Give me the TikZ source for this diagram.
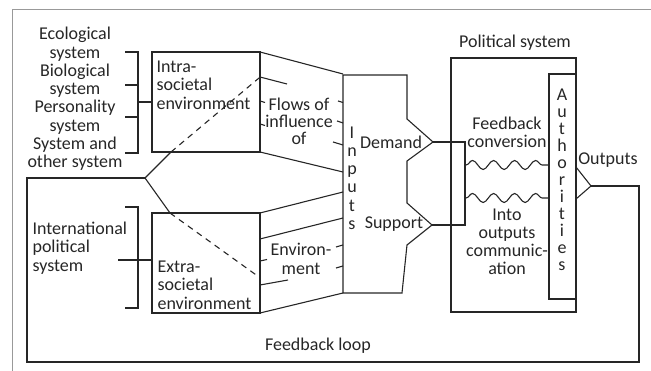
\documentclass[tikz,border=0pt]{standalone}
\usepackage{fontspec}
\setmainfont{Carlito}
\usetikzlibrary{decorations.pathmorphing}
\begin{document}
\begin{tikzpicture}[x=1pt,y=-1pt,line width=1.1pt,draw=black!85,
  txt/.style={font=\fontsize{18}{18.3}\selectfont,inner sep=0pt,align=center,text=black!85},
  stack/.style={txt,font=\fontsize{18}{#1}\selectfont},
  dsh/.style={dash pattern=on 6pt off 5pt},
  wave/.style={decorate,decoration={snake,amplitude=4.5pt,segment length=21pt}},
  frame/.style={draw=gray!80,line width=1pt}]
\useasboundingbox (0,0) rectangle (651,371);
% outer frame
\draw[frame] (12,371) -- (12,10) -- (651,10);
% coordinates
\coordinate (fork) at (145,178);
% feedback loop
\draw (fork) -- (27,178) -- (27,362) -- (639,362) -- (639,186) -- (591,186);
\draw (576,167) -- (591,186) -- (576,199);
% political system and authorities
\draw (451,58) rectangle (576,312);
\draw (549,74) rectangle (576,299);
% demand/support bracket
\draw (433,142) -- (465,142) -- (465,225) -- (432,225);
% waves
\draw[wave] (466,165) -- (549,165);
\draw[wave] (466,198) -- (549,198);
% inputs polygon
\draw (343,75) -- (407,75) -- (407,119) -- (433,142) -- (407,161) -- (407,203)
  -- (432,225) -- (407,245) -- (402,293) -- (343,293) -- cycle;
% environment boxes
\draw (152,52) rectangle (260,152);
\draw (152,213) rectangle (260,313);
% upper trapezoid
\draw (260,52) -- (343,74);
\draw (260,152) -- (343,172);
\draw (260,77) -- (287,84);
\draw (260,101) -- (265,102.5);
\draw (260,124) -- (265,125.5);
\draw (338,101) -- (343,102.5);
\draw (337,121) -- (343,123);
\draw (333,142) -- (343,145);
% lower trapezoid
\draw (260,213) -- (343,192);
\draw (260,239) -- (343,218);
\draw (260,313) -- (343,293);
\draw (260,285) -- (288,280);
\draw (260,261) -- (267,259.5);
\draw (336,247) -- (343,245);
\draw (336,268) -- (343,266);
% fork lines
\draw (fork) -- (171,152);
\draw[dsh] (171,152) -- (259,78);
\draw (fork) -- (170,213);
\draw[dsh] (170,213) -- (259,277);
% left brackets
\draw (125,52) -- (138,52) -- (138,153) -- (125,153);
\draw (125,85) -- (138,85);
\draw (125,117) -- (138,117);
\draw (138,102) -- (152,102);
\draw (125,207) -- (138,207) -- (138,308) -- (125,308);
\draw (118,260) -- (152,260);
% texts
\node[txt] (sys) at (75,99) {Ecological\\system\\Biological\\system\\Personality\\system\\System and\\other system};
\node[txt,align=left,anchor=west] (intl) at (32,248) {International\\political\\system};
\node[txt,align=left,anchor=west] (intra) at (156,85) {Intra-\\societal\\environment};
\node[txt,align=left,anchor=west] (extra) at (157,285) {Extra-\\societal\\environment};
\node[stack=17] (flows) at (299,121) {Flows of\\influence\\of};
\node[stack=18.5] (envt) at (301,259) {Environ-\\ment};
\node[stack=18.2] (inputs) at (352,178) {I\\n\\p\\u\\t\\s};
\node[txt] (demand) at (391,142) {Demand};
\node[txt] (support) at (394,224) {Support};
\node[txt] (polsys) at (515,43) {Political system};
\node[stack=18] (fconv) at (507,132) {Feedback\\conversion};
\node[stack=18] (into) at (507,242) {Into\\outputs\\communic-\\ation};
\node[stack=17] (auth) at (562,180) {A\\u\\t\\h\\o\\r\\i\\t\\i\\e\\s};
\node[txt] (outputs) at (608,160) {Outputs};
\node[txt] (floop) at (318,346) {Feedback loop};
\end{tikzpicture}
\end{document}
